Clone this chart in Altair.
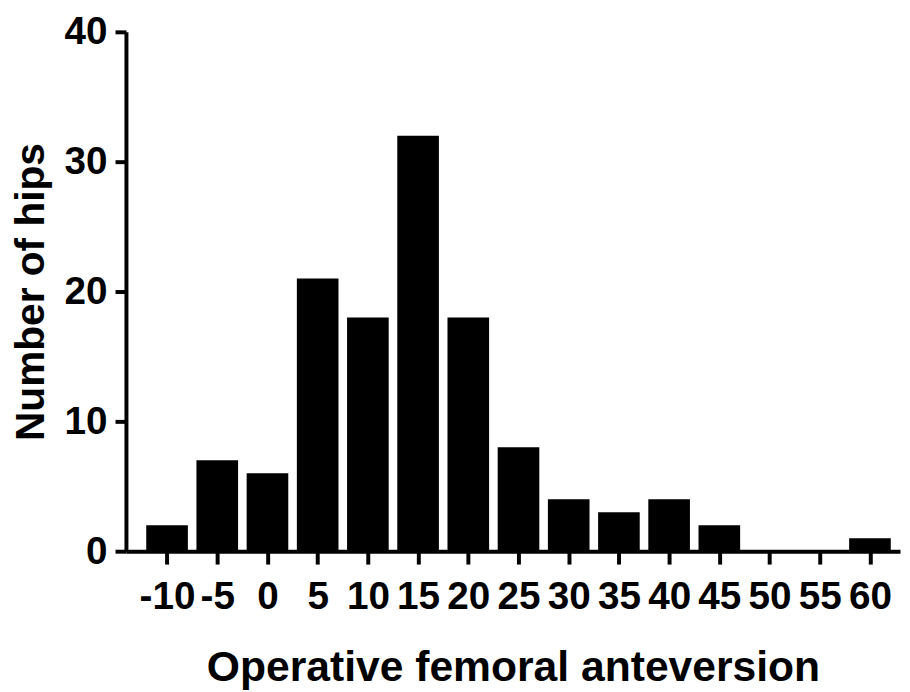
import altair as alt
import pandas as pd

bins = [-10, -5, 0, 5, 10, 15, 20, 25, 30, 35, 40, 45, 50, 55, 60]
hips = [2, 7, 6, 21, 18, 32, 18, 8, 4, 3, 4, 2, 0, 0, 1]
x_ticks = bins
y_ticks = [0, 10, 20, 30, 40]

df = pd.DataFrame({"angle": bins, "count": hips})

FONT = "Liberation Sans"

chart = (
    alt.Chart(df)
    .mark_bar(color="black", size=42)
    .encode(
        x=alt.X(
            "angle:Q",
            scale=alt.Scale(domain=[-13.6, 62.5], nice=False, zero=False),
            axis=alt.Axis(
                values=x_ticks,
                labelExpr="'' + datum.value",
                title="Operative femoral anteversion",
                titleFontSize=43,
                tickSize=13,
                labelPadding=14,
                titlePadding=30,
                labelFlush=False,
                labelOverlap=False,
            ),
        ),
        y=alt.Y(
            "count:Q",
            scale=alt.Scale(domain=[0, 40], nice=False),
            axis=alt.Axis(
                values=y_ticks,
                title="Number of hips",
                titleFontSize=41,
                tickSize=11,
                labelPadding=8,
                titlePadding=12,
            ),
        ),
    )
    .properties(
        width=781,
        height=524,
        autosize=alt.AutoSizeParams(type="none"),
        padding={"left": 119, "top": 21, "right": 2, "bottom": 139},
    )
    .configure_view(stroke=None)
    .configure_axis(
        grid=False,
        domainColor="black",
        domainWidth=4,
        tickColor="black",
        tickWidth=4,
        labelColor="black",
        labelFont=FONT,
        labelFontWeight="bold",
        labelFontSize=39,
        titleColor="black",
        titleFont=FONT,
        titleFontWeight="bold",
    )
)

chart.save("out.html", embed_options={"renderer": "svg", "actions": False})
